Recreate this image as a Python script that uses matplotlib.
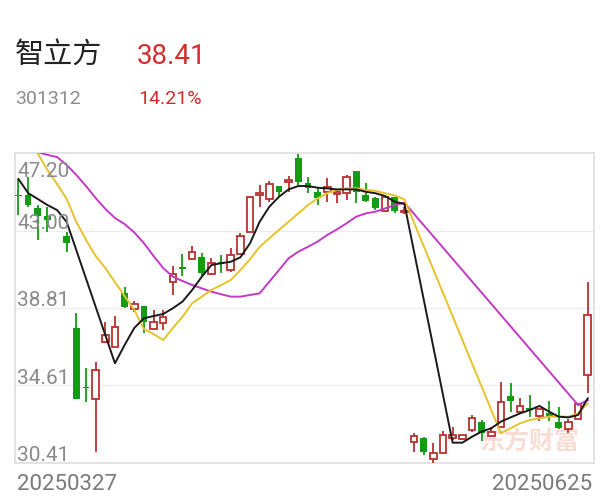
import numpy as np
import matplotlib
matplotlib.use("Agg")
import matplotlib.pyplot as plt
from matplotlib.transforms import offset_copy

plt.rcParams["font.family"] = ["Roboto", "Noto Sans CJK SC", "DejaVu Sans"]

nan = np.nan

# stock header
name = "智立方"
code = "301312"
last_price = "38.41"
change_pct = "14.21%"
start_date = "20250327"
end_date = "20250625"

# daily candles, one slot per trading day (slot 4 not shown)
opens = [44.95, 44.92, 44.20, 43.77, nan, 42.70, 37.71, 34.50, 33.86, 36.98,
         36.68, 39.63, 38.77, 38.91, 37.65, 38.01, 40.23, 41.01, 41.44, 41.56,
         40.65, 41.29, 40.86, 41.73, 42.94, 44.95, 44.69, 45.41, 45.62, 46.91,
         45.57, 45.10, 45.10, 44.98, 45.02, 46.24, 44.92, 44.74, 44.07, 44.83,
         43.98, 31.56, 31.75, 30.61, 30.94, 31.75, 31.69, 32.20, 32.65, 31.87,
         32.38, 34.04, 33.19, 33.37, 32.96, 33.10, 32.65, 32.23, 32.78, 35.18]
closes = [44.85, 44.38, 43.79, 43.59, nan, 42.31, 33.86, 34.45, 35.45, 37.34,
          37.76, 38.88, 39.02, 38.06, 38.06, 38.30, 40.65, 40.90, 41.85, 40.68,
          41.23, 41.20, 41.68, 42.70, 44.83, 45.05, 45.52, 45.10, 45.72, 45.65,
          45.29, 44.74, 45.35, 45.10, 45.89, 45.10, 44.61, 44.20, 44.83, 44.07,
          44.07, 31.87, 31.02, 30.97, 31.93, 31.93, 31.93, 32.83, 32.02, 32.11,
          33.73, 33.77, 33.50, 33.28, 33.32, 32.92, 32.29, 32.65, 33.63, 38.41]
highs = [45.77, 45.92, 44.38, 44.29, nan, 42.94, 38.52, 35.54, 35.90, 38.06,
         38.39, 39.96, 39.20, 38.91, 38.69, 38.69, 41.08, 41.71, 42.18, 41.77,
         41.50, 41.68, 42.04, 42.85, 44.83, 45.47, 45.70, 45.41, 45.95, 47.14,
         45.92, 45.29, 45.87, 45.20, 46.01, 46.24, 45.59, 44.80, 44.83, 44.83,
         44.26, 32.02, 31.83, 31.48, 32.14, 32.38, 31.93, 33.01, 32.74, 32.38,
         34.81, 34.73, 33.91, 34.09, 33.32, 33.78, 33.46, 32.78, 33.63, 40.23]
lows = [43.84, 44.26, 42.49, 42.94, nan, 41.85, 33.86, 33.73, 31.02, 36.89,
        36.68, 38.79, 38.60, 37.44, 37.61, 37.61, 39.51, 40.54, 41.40, 40.54,
        40.59, 40.72, 40.75, 41.73, 42.94, 44.30, 44.56, 44.80, 45.10, 45.47,
        45.02, 44.38, 44.56, 44.47, 44.65, 44.47, 44.56, 44.12, 43.99, 43.93,
        43.90, 31.02, 30.84, 30.43, 30.94, 31.66, 31.64, 32.11, 31.62, 31.83,
        32.38, 33.19, 33.06, 32.92, 32.70, 32.70, 32.23, 32.02, 32.78, 34.19]

# moving averages (gaps are bridged by a straight line)
ma5 = [45.79, 45.03, 44.71, 44.38, 44.11, 43.46, nan, nan, nan, nan,
       35.81, 36.80, 37.72, 38.25, 38.37, 38.48, 38.79, 39.15, 39.78, 40.50,
       41.13, 41.23, 41.31, 41.55, 42.31, 43.48, 44.29, 44.83, 45.23, 45.41,
       45.41, 45.32, 45.28, 45.23, 45.23, 45.23, 45.10, 45.02, 44.87, 44.56,
       44.44, nan, nan, nan, nan, 31.51, 31.51, 31.83, 32.11, 32.29,
       32.65, 32.88, 33.10, 33.28, 33.50, 33.19, 32.92, 32.88, 33.01, 33.91]
ma10 = [48.60, 47.90, 47.17, 46.28, 45.52, 44.71, 43.46, 42.49, 41.62, 40.97,
        40.21, 39.45, 38.70, 37.66, 37.40, 37.07, 37.72, 38.33, 39.06, 39.42,
        39.78, 40.05, 40.32, 40.86, 41.45, 42.12, 42.58, 43.03, 43.48, 43.93,
        44.38, 44.74, 45.02, 45.20, 45.29, 45.29, 45.20, 45.15, 45.02, 44.90,
        44.69, nan, nan, nan, nan, nan, nan, nan, nan, nan,
        32.02, 32.29, 32.56, 32.74, 32.83, 32.92, 32.92, 32.92, 33.10, 33.64]
ma20 = [47.90, 47.55, 47.25, 47.10, 46.98, 46.55, 46.01, 45.41, 44.76, 44.17,
        43.68, 43.35, 42.90, 42.32, 41.62, 40.97, 40.50, 40.27, 40.05, 39.87,
        39.69, 39.55, 39.42, 39.42, 39.51, 39.60, 40.23, 40.86, 41.50, 41.85,
        42.12, 42.40, 42.76, 43.06, 43.39, 43.75, 43.93, 44.02, 44.20, 44.38,
        44.51, nan, nan, nan, nan, nan, nan, nan, nan, nan,
        nan, nan, nan, nan, nan, nan, nan, nan, 33.55, 33.82]

y_ticks = [30.41, 34.61, 38.81, 43.00, 47.20]

RED = "#b8322f"
GREEN = "#139c13"
GREY = "#8a8a8a"

fig = plt.figure(figsize=(6.09, 5.0), dpi=100)
ax = fig.add_axes([15 / 609, 37 / 500, 579 / 609, 310 / 500])

o = np.array(opens)
c = np.array(closes)
h = np.array(highs)
l = np.array(lows)
x = np.arange(len(o))
up = c >= o
down = c < o

ax.vlines(x[up], l[up], h[up], color=RED, linewidth=1.3, zorder=3)
ax.vlines(x[down], l[down], h[down], color=GREEN, linewidth=1.3, zorder=3)

body_up = np.maximum(c[up] - o[up], 0.06)
ax.bar(x[up], body_up, bottom=o[up], width=0.68, facecolor="white",
       edgecolor=RED, linewidth=1.3, zorder=4)
body_dn = np.maximum(o[down] - c[down], 0.08)
ax.bar(x[down], body_dn, bottom=c[down], width=0.7, color=GREEN,
       linewidth=0, zorder=4)

for values, color in ((ma20, "#c23ac4"), (ma10, "#e8c22a"), (ma5, "#1a1a1a")):
    v = np.array(values)
    ok = ~np.isnan(v)
    ax.plot(x[ok], v[ok], color=color, linewidth=1.4, zorder=5)

ax.set_xlim(-0.36, 59.65)
ax.set_ylim(y_ticks[0], y_ticks[-1])
ax.set_xticks([])
ax.set_yticks([])
for t in y_ticks[1:-1]:
    ax.axhline(t, color="#ededed", linewidth=1.0, zorder=1)
for s in ax.spines.values():
    s.set_color("#dedede")
    s.set_linewidth(1.2)

# y labels, drawn inside the plot
ytrans = ax.get_yaxis_transform()
for t in y_ticks:
    if t == y_ticks[-1]:
        tr = offset_copy(ytrans, fig=fig, x=1.5, y=-6.5, units="points")
        va = "top"
    else:
        tr = offset_copy(ytrans, fig=fig, x=1.5, y=1.2, units="points")
        va = "baseline"
    ax.text(0, t, f"{t:.2f}", transform=tr, ha="left", va=va,
            fontsize=15, color=GREY, zorder=6)

# watermark
ax.text(0.888, 0.07, "东方财富", transform=ax.transAxes, ha="center",
        va="center", fontsize=18, fontweight="bold", color="#f7ddd4",
        family=["Noto Sans CJK SC"], zorder=2)

# header
fig.text(15 / 609, 1 - 63 / 500, name, fontsize=21, color="#222222",
         family=["Noto Sans CJK SC"], va="baseline")
fig.text(137 / 609, 1 - 63.5 / 500, last_price, fontsize=20, color="#d42b2b",
         va="baseline")
fig.text(15 / 609, 1 - 103.5 / 500, code, fontsize=14, color="#8c8c8c",
         va="baseline")
fig.text(138 / 609, 1 - 103.5 / 500, change_pct, fontsize=14,
         color="#d42b2b", va="baseline")

# date labels
fig.text(17 / 609, 1 - 490 / 500, start_date, fontsize=16, color="#7a7a7a",
         va="baseline", ha="left")
fig.text(592 / 609, 1 - 490 / 500, end_date, fontsize=16, color="#7a7a7a",
         va="baseline", ha="right")

fig.savefig("out.png", dpi=100)
